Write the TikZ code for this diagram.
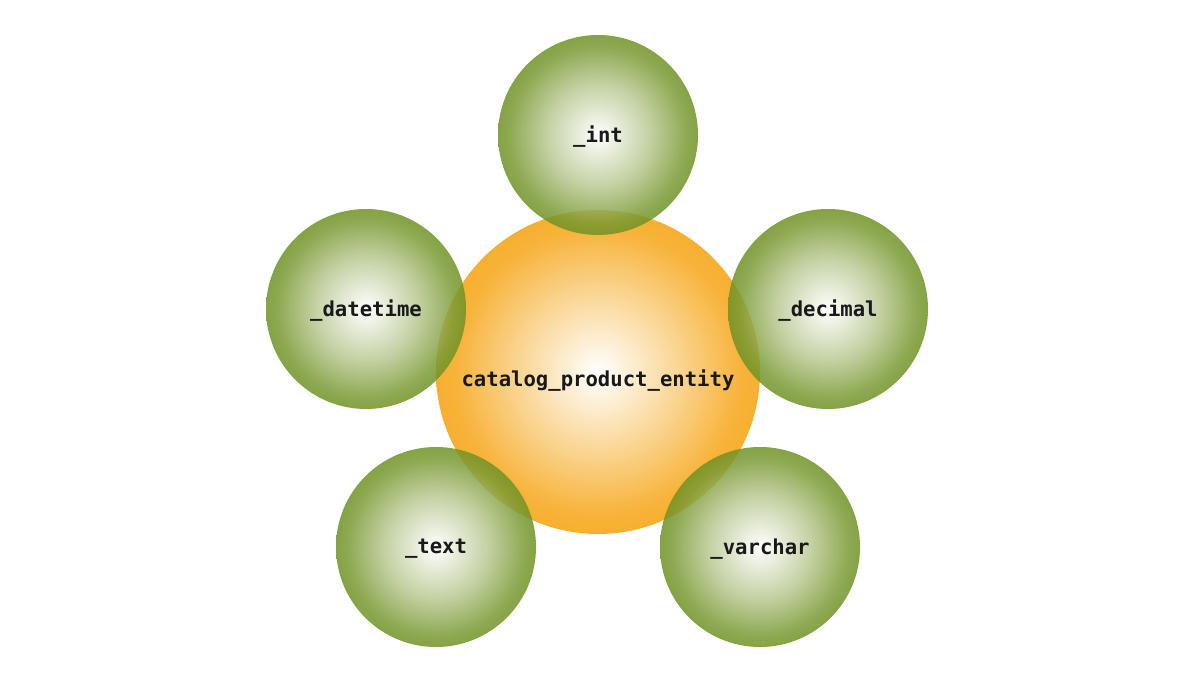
\documentclass[tikz,border=0pt]{standalone}
\usepackage{fontspec}
\setmonofont{DejaVu Sans Mono}
\definecolor{gedge}{RGB}{112,146,36}
\definecolor{oedge}{RGB}{246,168,30}
\pgfdeclareradialshading{gball}{\pgfpoint{0bp}{0bp}}{color(0bp)=(white); color(2bp)=(white!92!gedge); color(13bp)=(white!50!gedge); color(22bp)=(white!8!gedge); color(25bp)=(gedge); color(50bp)=(gedge)}
\pgfdeclareradialshading{oball}{\pgfpoint{0bp}{0bp}}{color(0bp)=(white); color(2bp)=(white!92!oedge); color(13bp)=(white!45!oedge); color(22bp)=(white!5!oedge); color(25bp)=(oedge); color(50bp)=(oedge)}
\tikzset{
  lbl/.style={font=\ttfamily\bfseries\fontsize{20.6}{24}\selectfont, text=black!90, inner sep=0pt},
  gcirc/.style={shading=gball, opacity=0.85},
  ocirc/.style={shading=oball, opacity=0.92}
}
\begin{document}
\begin{tikzpicture}[x=1pt,y=1pt]
\useasboundingbox (0,0) rectangle (1191,682);
\shade[ocirc] (598,310) circle (162);
\shade[gcirc] (598,547) circle (100);
\shade[gcirc] (366,373) circle (100);
\shade[gcirc] (828,373) circle (100);
\shade[gcirc] (436,135) circle (100);
\shade[gcirc] (760,135) circle (100);
\node[lbl] (main) at (598,301) {catalog\_product\_entity};
\node[lbl] (int) at (598,545) {\_int};
\node[lbl] (dt) at (366,371) {\_datetime};
\node[lbl] (dec) at (828,371) {\_decimal};
\node[lbl] (txt) at (436,133) {\_text};
\node[lbl] (vc) at (760,133) {\_varchar};
\end{tikzpicture}
\end{document}
